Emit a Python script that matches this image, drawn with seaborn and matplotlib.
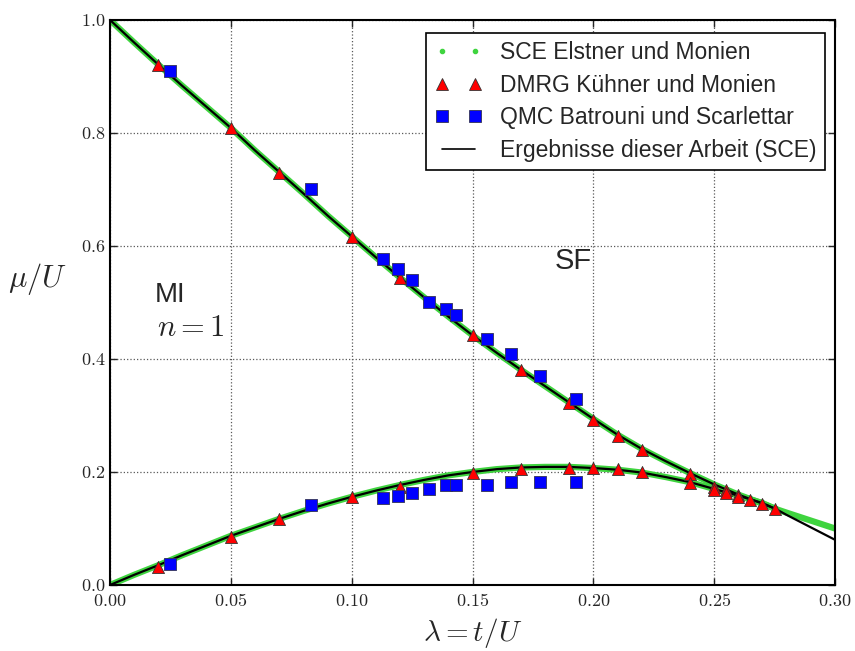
import numpy as np
import pandas as pd
import seaborn as sns
import matplotlib.pyplot as plt
from matplotlib.lines import Line2D
from matplotlib.legend_handler import HandlerLine2D
from matplotlib.ticker import FuncFormatter, MultipleLocator

# --- data ---
lam_up = [0.00, 0.01, 0.02, 0.03, 0.04, 0.05, 0.06, 0.07, 0.08, 0.09, 0.10,
          0.11, 0.12, 0.13, 0.14, 0.15, 0.16, 0.17, 0.18, 0.19, 0.20,
          0.21, 0.22, 0.23, 0.24, 0.25, 0.26, 0.27, 0.2755, 0.28, 0.29, 0.30]
mu_up_this = [1.000, 0.960, 0.921, 0.883, 0.846, 0.809, 0.769, 0.731, 0.693, 0.654, 0.617,
              0.580, 0.544, 0.509, 0.475, 0.442, 0.411, 0.381, 0.352, 0.323, 0.294,
              0.266, 0.241, 0.219, 0.198, 0.178, 0.160, 0.144, 0.1345, 0.124, 0.102, 0.080]
mu_up_em = [1.000, 0.960, 0.921, 0.883, 0.846, 0.809, 0.769, 0.731, 0.693, 0.654, 0.617,
            0.580, 0.544, 0.509, 0.475, 0.442, 0.411, 0.381, 0.352, 0.323, 0.294,
            0.266, 0.241, 0.219, 0.198, 0.178, 0.160, 0.144, 0.1345, 0.128, 0.114, 0.100]

lam_lo = [0.00, 0.01, 0.02, 0.03, 0.04, 0.05, 0.06, 0.07, 0.08, 0.09, 0.10,
          0.11, 0.12, 0.13, 0.14, 0.15, 0.16, 0.17, 0.18, 0.19, 0.20,
          0.21, 0.22, 0.23, 0.24, 0.25, 0.26, 0.27, 0.2755]
mu_lo = [0.000, 0.018, 0.035, 0.053, 0.070, 0.087, 0.102, 0.117, 0.131, 0.144, 0.156,
         0.167, 0.177, 0.186, 0.194, 0.200, 0.205, 0.208, 0.209, 0.209, 0.207,
         0.204, 0.199, 0.191, 0.182, 0.170, 0.158, 0.145, 0.1345]

# DMRG Kühner und Monien
dmrg_lam = [0.02, 0.05, 0.07, 0.10, 0.12, 0.15, 0.17, 0.19, 0.20, 0.21, 0.22, 0.24,
            0.02, 0.05, 0.07, 0.10, 0.12, 0.15, 0.17, 0.19, 0.20, 0.21, 0.22, 0.24,
            0.25, 0.25, 0.255, 0.255, 0.26, 0.26, 0.265, 0.27, 0.275]
dmrg_mu = [0.920, 0.809, 0.729, 0.616, 0.543, 0.442, 0.381, 0.322, 0.292, 0.264, 0.239, 0.196,
           0.032, 0.085, 0.117, 0.156, 0.173, 0.198, 0.205, 0.207, 0.207, 0.205, 0.200, 0.180,
           0.173, 0.168, 0.168, 0.163, 0.159, 0.156, 0.151, 0.143, 0.135]

# QMC Batrouni und Scarlettar
qmc_lam = [0.025, 0.083, 0.113, 0.119, 0.125, 0.132, 0.139, 0.143, 0.156, 0.166, 0.178, 0.193,
           0.025, 0.083, 0.113, 0.119, 0.125, 0.132, 0.139, 0.143, 0.156, 0.166, 0.178, 0.193]
qmc_mu = [0.910, 0.701, 0.577, 0.560, 0.540, 0.501, 0.488, 0.478, 0.435, 0.409, 0.370, 0.329,
          0.037, 0.142, 0.154, 0.158, 0.163, 0.170, 0.177, 0.177, 0.177, 0.182, 0.182, 0.182]

GREEN = '#3fd43f'

sns.set_style('ticks')
plt.rcParams['mathtext.fontset'] = 'cm'
plt.rcParams['font.family'] = ['Liberation Sans', 'DejaVu Sans']

fig = plt.figure(figsize=(8.55, 6.51), dpi=100)
ax = fig.add_axes([0.1287, 0.1014, 0.8479, 0.8679])

# Elstner und Monien (green band) then this work (black)
sns.lineplot(x=lam_up, y=mu_up_em, ax=ax, color=GREEN, lw=4.5, sort=False,
             estimator=None, zorder=2)
sns.lineplot(x=lam_lo, y=mu_lo, ax=ax, color=GREEN, lw=4.5, sort=False,
             estimator=None, zorder=2)
sns.lineplot(x=lam_up, y=mu_up_this, ax=ax, color='black', lw=1.6, sort=False,
             estimator=None, zorder=3)
sns.lineplot(x=lam_lo, y=mu_lo, ax=ax, color='black', lw=1.6, sort=False,
             estimator=None, zorder=3)

sns.scatterplot(x=dmrg_lam, y=dmrg_mu, ax=ax, marker='^', s=75, color='red',
                edgecolor='#333333', linewidth=0.6, zorder=4)
sns.scatterplot(x=qmc_lam, y=qmc_mu, ax=ax, marker='s', s=70, color='blue',
                edgecolor='#333355', linewidth=0.6, zorder=4)

ax.set_xlim(0, 0.30)
ax.set_ylim(0, 1.0)
ax.xaxis.set_major_locator(MultipleLocator(0.05))
ax.yaxis.set_major_locator(MultipleLocator(0.2))
ax.xaxis.set_major_formatter(FuncFormatter(lambda v, _: f'${v:.2f}$'))
ax.yaxis.set_major_formatter(FuncFormatter(lambda v, _: f'${v:.1f}$'))
ax.tick_params(direction='in', top=True, right=True, length=5, width=1,
               labelsize=13)
ax.tick_params(axis='x', pad=6)
ax.grid(True, linestyle=':', color='0.35', lw=0.9)
for sp in ax.spines.values():
    sp.set_linewidth(1.5)
    sp.set_color('black')

ax.set_xlabel(r'$\lambda = t/U$', fontsize=21, labelpad=4)
ax.set_ylabel(r'$\mu/U$', fontsize=22, rotation=0)
ax.yaxis.set_label_coords(-0.1, 0.51)

ax.text(0.0185, 0.50, 'MI', fontsize=20)
ax.text(0.0195, 0.44, r'$n=1$', fontsize=22)
ax.text(0.184, 0.56, 'SF', fontsize=21)

handles = [
    Line2D([], [], ls='none', marker='.', color=GREEN, ms=6),
    Line2D([], [], ls='none', marker='^', color='red', mec='#333333', mew=0.6, ms=8),
    Line2D([], [], ls='none', marker='s', color='blue', mec='#333355', mew=0.6, ms=8),
    Line2D([], [], color='black', lw=1.2),
]
labels = ['SCE Elstner und Monien', 'DMRG Kühner und Monien',
          'QMC Batrouni und Scarlettar', 'Ergebnisse dieser Arbeit (SCE)']
leg = ax.legend(handles, labels, loc='upper right', bbox_to_anchor=(0.9862, 0.977),
                numpoints=2, fontsize=16.5, fancybox=False, framealpha=1,
                edgecolor='black', borderaxespad=0, handlelength=2.14,
                handletextpad=0.75, labelspacing=0.42, borderpad=0.35,
                handler_map={Line2D: HandlerLine2D(marker_pad=0.35)})
leg.get_frame().set_linewidth(1.2)

fig.savefig('out.png', dpi=100)
